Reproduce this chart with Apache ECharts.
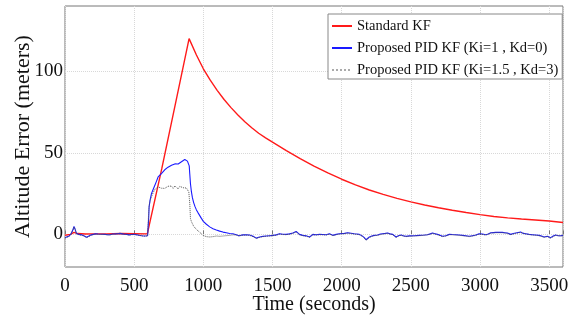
<!DOCTYPE html>
<html>
<head>
<meta charset="utf-8">
<script src="https://cdn.jsdelivr.net/npm/echarts@6/dist/echarts.min.js"></script>
<style>html,body{margin:0;padding:0;background:#fff}#c{width:576px;height:320px}</style>
</head>
<body>
<div id="c"></div>
<script>
const seriesNames = ['Standard KF', 'Proposed PID KF (Ki=1 , Kd=0)', 'Proposed PID KF (Ki=1.5 , Kd=3)'];
const xTickValues = [0, 500, 1000, 1500, 2000, 2500, 3000, 3500];
const yTickValues = [0, 50, 100];

// [time (s), altitude error (m)]
const redData = [
  [0,-0.5],[40,0],[65,1.2],[90,0.5],[150,0.2],[200,0.3],[300,0.3],[400,0.5],[500,0.4],[595,0.3],[600,0],
  [700,40.4],[800,80.8],[897,120],
  [950,110],[1000,101.5],[1050,94.5],[1100,88.3],[1150,82.7],[1200,77.7],[1250,73.2],[1300,69.1],[1350,65.4],
  [1400,62],[1450,59.2],[1500,56.5],[1600,51.3],[1700,46.4],[1800,41.9],
  [1900,37.7],[2000,33.8],[2100,30.3],[2200,27.2],[2300,24.5],[2400,22.1],[2500,19.9],[2600,18],[2700,16.3],
  [2800,14.8],[2900,13.4],[3000,12.1],[3100,11],[3200,10.1],[3300,9.4],[3400,8.8],[3500,8.2],[3600,7.3]
];

const blueData = [
  [0,-2],[15,-1.5],[30,-1],[45,0.5],[58,3],[65,4.8],[72,3.5],[83,0.5],[100,0],[120,-0.3],[140,-1],[156,-1.7],
  [170,-0.8],[190,-0.3],[204,0],[220,0.3],[240,0.2],[252,0.4],[270,0.1],[290,0],[310,-0.2],[325,-0.2],[345,0.2],
  [365,0.3],[380,0.4],[397,0.6],[415,0.3],[430,0.1],[445,0],[465,-0.3],[480,-0.1],[500,0],[517,-0.2],[535,-0.5],
  [555,-0.8],[575,-1.0],[589,-1],[597,-0.8],[601,-0.5],[605,10],[608,16.8],[615,21],[625,25],[637,27.5],[649,30],
  [661,32.5],[673,35.2],[685,36.3],[697,37.3],[709,38.4],[721,39.6],[733,40.4],[745,41.2],[758,41.6],[770,42.4],
  [782,42.2],[794,43.2],[806,43.5],[818,43.1],[830,44],[842,44.5],[854,44.2],[866,45.9],[876,45.4],[885,44.9],
  [893,44],[898,42],[902,37],[907,31],[914,26],[921,22.5],[930,19.5],[940,17],[950,15],[960,13.5],[970,12.3],
  [986,9.8],[1000,8],[1022,6.2],[1046,4.6],[1070,3.5],[1094,2.7],[1118,2],[1142,1.4],[1166,1.0],[1190,0.5],
  [1214,0.4],[1238,-0.2],[1258,-0.8],[1286,-0.3],[1310,-0.2],[1334,-0.4],[1360,-1.2],[1383,-2.3],[1400,-1.8],
  [1431,-1.2],[1455,-1.0],[1479,-0.8],[1503,-0.6],[1527,-0.3],[1551,0.4],[1575,0.1],[1599,0],[1623,0.3],[1647,0.8],
  [1671,1.8],[1683,1.2],[1695,0],[1719,-0.6],[1743,-0.9],[1768,-1.6],[1792,0],[1816,-0.2],[1840,0],[1864,-0.1],
  [1888,-0.2],[1912,0.4],[1936,-0.6],[1960,0],[1984,0.4],[1996,0.4],[2020,0.6],[2044,1.0],[2068,0.7],[2092,0.4],
  [2110,0.2],[2128,0],[2146,-0.8],[2164,-2],[2176,-3.3],[2188,-2.6],[2200,-1.6],[2218,-1.0],[2236,-0.6],[2260,-0.4],
  [2280,0.2],[2296,0.4],[2315,0.6],[2332,0.8],[2350,0.3],[2369,0],[2381,-0.8],[2393,-1.6],[2410,-0.8],[2429,-0.4],
  [2447,-0.9],[2465,-1.2],[2490,-0.9],[2525,-0.8],[2560,-0.6],[2597,-0.4],[2620,-0.2],[2640,0.3],[2657,0.8],
  [2675,0.4],[2693,0],[2711,-0.6],[2729,-1.2],[2753,-0.8],[2778,0],[2800,-0.1],[2826,-0.2],[2850,-0.4],[2874,-0.6],
  [2898,-0.8],[2922,-1.2],[2946,-0.8],[2970,-0.4],[2994,0.4],[3018,0.2],[3042,-0.2],[3060,0.2],[3078,1.0],[3096,1.1],
  [3114,1.2],[3138,1.2],[3162,1.2],[3180,1.0],[3198,0.8],[3222,0],[3240,0.5],[3258,0.8],[3276,1.1],[3294,1.4],
  [3313,0.6],[3331,0.4],[3355,0],[3379,-0.2],[3403,-0.4],[3427,-0.6],[3445,-1.0],[3463,-1.6],[3475,-1.2],[3487,-1.2],
  [3499,-1.6],[3511,-2],[3529,-1.0],[3547,-0.4],[3565,-0.8],[3583,-0.8],[3600,-0.6]
];

const grayData = [
  [0,-2.3],[15,-1.8],[30,-1.2],[45,0.3],[58,2.8],[65,4.5],[72,3.2],[83,0.3],[100,-0.2],[120,-0.5],[140,-1.2],
  [156,-2],[170,-1],[190,-0.5],[204,-0.2],[220,0.2],[240,0],[252,0.3],[270,0],[290,-0.1],[310,-0.3],[325,-0.3],
  [345,0.1],[365,0.2],[380,0.3],[397,0.5],[415,0.2],[430,0],[445,-0.1],[465,-0.4],[480,-0.2],[500,-0.1],[517,-0.3],
  [535,-0.6],[555,-0.9],[575,-1.1],[589,-1.1],[597,-0.9],[601,-0.6],[604,12],[608,17.5],[615,20.5],[625,23],
  [637,25.5],[649,27.5],[661,28.6],[673,29.1],[685,28.7],[697,28.3],[709,27.8],[721,28.2],[733,29],[745,29.5],
  [758,28.9],[770,29.6],[782,28.2],[794,29.7],[806,28.5],[818,27.9],[830,29.4],[842,28.2],[854,28.6],[866,27.8],
  [878,28.4],[888,27.2],[895,26],[899,22],[902,18.9],[907,9.7],[914,7.8],[921,6.6],[930,5],[940,4.1],[950,3],
  [962,2.1],[975,1.2],[986,0.3],[998,-0.6],[1010,-1.1],[1022,-1.4],[1034,-1.9],[1046,-1.6],[1058,-1.9],[1070,-1.4],
  [1082,-1.7],[1094,-1.0],[1106,-1.4],[1118,-1.2],[1130,-1.6],[1142,-1.0],[1154,-1.3],[1166,-0.8],[1178,-1.1],
  [1190,-0.6],[1202,-0.9],[1214,-0.3],[1226,-0.6],[1238,-0.4],[1258,-1.0],[1280,-0.5],[1310,-0.4],[1334,-0.6],
  [1360,-1.4],[1383,-2.5],[1400,-2.0],[1431,-1.4],[1455,-1.1],[1479,-1.0],[1503,-0.8],[1527,-0.5],[1551,0.2],
  [1575,-0.1],[1599,-0.2],[1623,0.1],[1647,0.6],[1671,1.5],[1683,1.0],[1695,-0.2],[1719,-0.8],[1743,-1.1],
  [1768,-1.8],[1792,-0.2],[1816,-0.4],[1840,-0.2],[1864,-0.3],[1888,-0.4],[1912,0.2],[1936,-0.8],[1960,-0.2],
  [1984,0.2],[2020,0.4],[2044,0.8],[2068,0.5],[2092,0.2],[2128,-0.2],[2146,-1.0],[2164,-2.3],[2176,-3.6],
  [2188,-2.9],[2200,-1.9],[2218,-1.2],[2236,-0.8],[2260,-0.6],[2296,0.2],[2332,0.6],[2369,-0.2],[2381,-1.0],
  [2393,-1.9],[2410,-1.0],[2429,-0.6],[2465,-1.4],[2490,-1.1],[2525,-1.0],[2560,-0.8],[2597,-0.6],[2640,0.1],
  [2657,0.6],[2693,-0.2],[2729,-1.4],[2753,-1.0],[2778,-0.2],[2826,-0.4],[2874,-0.8],[2922,-1.4],[2970,-0.6],
  [2994,0.2],[3042,-0.4],[3078,0.8],[3114,1.0],[3162,1.0],[3198,0.6],[3222,-0.2],[3258,0.6],[3294,1.2],[3331,0.2],
  [3379,-0.4],[3427,-0.8],[3463,-1.8],[3487,-1.4],[3511,-2.2],[3547,-0.6],[3583,-1.0],[3600,-0.8]
];

const FONT = '"Liberation Serif", "DejaVu Serif", serif';
const chart = echarts.init(document.getElementById('c'), null, {renderer: 'canvas'});

const gridLines = yTickValues.map(v => ({yAxis: v}));

chart.setOption({
  animation: false,
  backgroundColor: '#fff',
  grid: {left: 65, right: 13, top: 6, bottom: 53, show: true, borderColor: '#777', borderWidth: 1,
    backgroundColor: 'transparent', containLabel: false, outerBoundsMode: 'none'},
  legend: {
    orient: 'vertical', left: 328, top: 14,
    padding: [4, 4, 1, 3], itemGap: 6, itemWidth: 20, itemHeight: 14, itemTextGap: 3,
    backgroundColor: '#fff', borderColor: '#888', borderWidth: 1,
    itemStyle: {opacity: 0, borderWidth: 0},
    textStyle: {fontFamily: FONT, fontSize: 14.5, color: '#111', lineHeight: 16},
    data: [
      {name: seriesNames[0]},
      {name: seriesNames[1]},
      {name: seriesNames[2], lineStyle: {color: '#aaa'}}
    ]
  },
  xAxis: {
    type: 'value', min: 0, max: 3600, interval: 500,
    axisLine: {show: false},
    axisTick: {show: true, inside: true, length: 4, lineStyle: {color: '#777'}},
    splitLine: {show: true, lineStyle: {color: '#d8d8d8', type: 'dotted', width: 1}},
    axisLabel: {fontFamily: FONT, fontSize: 19, color: '#111', margin: 10,
      formatter: v => xTickValues.includes(v) ? String(v) : ''},
    name: 'Time (seconds)', nameLocation: 'middle', nameGap: 28, nameMoveOverlap: false,
    nameTextStyle: {fontFamily: FONT, fontSize: 20, color: '#111'}
  },
  yAxis: {
    type: 'value', min: -20, max: 140, interval: 10,
    axisLine: {show: false},
    axisTick: {show: false},
    splitLine: {show: false},
    axisLabel: {fontFamily: FONT, fontSize: 19, color: '#111', margin: 2,
      formatter: v => yTickValues.includes(v) ? String(v) : ''},
    name: 'Altitude Error (meters)', nameLocation: 'middle', nameGap: 31, nameMoveOverlap: false,
    nameTextStyle: {fontFamily: FONT, fontSize: 22, color: '#111'}
  },
  series: [
    {
      name: seriesNames[0], type: 'line', data: redData, symbol: 'none', z: 3,
      lineStyle: {color: '#ff1a1a', width: 1.4}, itemStyle: {color: '#ff1a1a'},
      markLine: {silent: true, symbol: 'none', label: {show: false}, z: 1,
        lineStyle: {color: '#d8d8d8', type: 'dotted', width: 1}, data: gridLines}
    },
    {
      name: seriesNames[1], type: 'line', data: blueData, symbol: 'none', z: 4,
      lineStyle: {color: '#1a1aff', width: 1.1}, itemStyle: {color: '#1a1aff'}
    },
    {
      name: seriesNames[2], type: 'line', data: grayData, symbol: 'none', z: 5,
      lineStyle: {color: '#555', width: 1, type: 'dotted'}, itemStyle: {color: '#999'}
    }
  ]
});
</script>
</body>
</html>
